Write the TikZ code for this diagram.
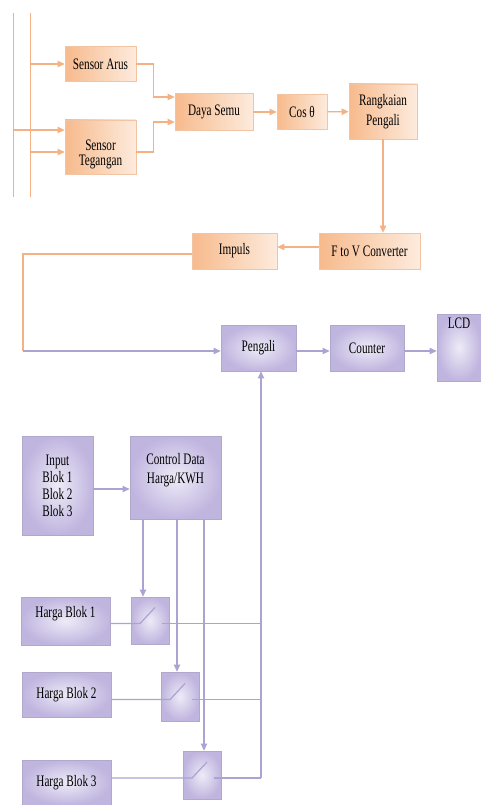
\documentclass[tikz,border=0pt]{standalone}
\usepackage{fontspec}
\setmainfont[FakeStretch=0.7]{Liberation Serif}
\usetikzlibrary{positioning,arrows.meta,calc}

\definecolor{ogaris}{HTML}{F4B183}
\definecolor{otepi}{HTML}{F1C5A3}
\definecolor{oisi}{HTML}{F7BA8C}
\definecolor{oterang}{HTML}{FDEBDD}
\definecolor{pgaris}{HTML}{ABA3D2}
\definecolor{ptepi}{HTML}{B0A9CB}
\definecolor{pisi}{HTML}{C0B5DF}
\definecolor{pterang}{HTML}{EEEBF7}

\begin{document}
\begin{tikzpicture}[x=1pt, y=-1pt,
    oblock/.style={draw=otepi, line width=0.8pt, left color=oisi, right color=oterang, inner sep=0pt, align=center, font=\fontsize{16}{17}\selectfont},
    pblock/.style={draw=ptepi, line width=0.8pt, inner color=pterang, outer color=pisi, inner sep=0pt, align=center, font=\fontsize{16}{17}\selectfont},
    saklar/.style={pblock, minimum width=38pt},
    oline/.style={draw=ogaris, line width=1.2pt},
    pline/.style={draw=pgaris, line width=1.2pt},
    oarrow/.style={oline, -{Triangle[length=7pt,width=6.5pt]}},
    parrow/.style={pline, -{Triangle[length=7pt,width=6.5pt]}}
]
\useasboundingbox (0,0) rectangle (481,805);

% Sensor
\node[oblock, minimum width=71pt, minimum height=35pt] (arus) at (100.5,64) {Sensor Arus};
\node[oblock, minimum width=71pt, text height=46pt, text depth=8pt] (tegangan) at (100.5,147) {Sensor\\[-2pt]Tegangan};

% Daya
\node[oblock, minimum width=78pt, minimum height=37pt] (daya) at (214,112) {Daya Semu};
\node[oblock, minimum width=50pt, minimum height=35pt] (costheta) at (302,112) {Cos θ};
\node[oblock, minimum width=68pt, minimum height=55pt] (rangkaian) at (383,111.5) {Rangkaian\\[3pt]Pengali};
\node[oblock, minimum width=101pt, minimum height=36pt] (ftov) at (369.5,251) {F to V Converter};
\node[oblock, minimum width=85pt, minimum height=36pt] (impuls) at (234.5,251) {Impuls};

% Tampilan
\node[pblock, minimum width=75pt, minimum height=46pt] (pengali) at (258.5,348) {Pengali};
\node[pblock, minimum width=74pt, minimum height=46pt] (counter) at (367,348) {Counter};
\node[pblock, minimum width=44pt, text height=14pt, text depth=53pt] (lcd) at (459,347.5) {LCD};

% Tarif
\node[pblock, minimum width=71pt, minimum height=99pt] (input) at (57.5,485.5) {Input\\Blok 1\\Blok 2\\Blok 3};
\node[pblock, minimum width=91pt, text height=47pt, text depth=36pt] (control) at (175.5,477.5) {Control Data\\[2pt]Harga/KWH};
\node[pblock, minimum width=89pt, text height=20pt, text depth=28pt] (harga1) at (65.5,621) {Harga Blok 1};
\node[pblock, minimum width=89pt, minimum height=45pt] (harga2) at (66.5,694.5) {Harga Blok 2};
\node[pblock, minimum width=89pt, minimum height=45pt] (harga3) at (66.5,782.5) {Harga Blok 3};
\node[saklar, minimum height=47pt] (saklar1) at (150,620.5) {};
\node[saklar, minimum height=49pt] (saklar2) at (180,696.5) {};
\node[saklar, minimum height=48pt] (saklar3) at (202,775) {};

% Jala-jala
\coordinate (busA) at (13,13);
\coordinate (busAend) at (13,197);
\coordinate (busB) at (30,13);
\coordinate (busBend) at (30,197);
\draw[oline, line width=0.9pt] (busA) -- (busAend);
\draw[oline, line width=0.9pt] (busB) -- (busBend);
\coordinate (tgA) at ([yshift=17pt]tegangan.west);
\coordinate (tgB) at ([yshift=-5pt]tegangan.west);
\draw[oarrow] (busB |- arus.west) -- (arus.west);
\draw[oarrow] (busA |- tgA) -- (tgA);
\draw[oarrow] (busB |- tgB) -- (tgB);

% Koneksi atas
\draw[oarrow] (arus.east) -- ++(17,0) |- ([yshift=15pt]daya.west);
\draw[oarrow] ([yshift=-5pt]tegangan.east) -- ++(17,0) |- ([yshift=-10pt]daya.west);
\draw[oarrow] (daya) -- (costheta);
\draw[oarrow] (costheta) -- (rangkaian);
\draw[oarrow] (rangkaian.south) -- (rangkaian.south |- ftov.north);
\draw[oarrow] ([yshift=4pt]ftov.west) -- ([yshift=4pt]impuls.east);
\coordinate (belok) at (23,351);
\draw[oline] ([yshift=-3pt]impuls.west) -| (belok);
\draw[parrow] (belok) -- (belok -| pengali.west);
\draw[parrow] (pengali.east |- belok) -- (counter.west |- belok);
\draw[parrow] (counter.east |- belok) -- (lcd.west |- belok);

% Koneksi tarif
\coordinate (inA) at ([yshift=-3.5pt]input.east);
\draw[parrow] (inA) -- (inA -| control.west);
\coordinate (atur1) at ([xshift=-7pt]saklar1.north);
\coordinate (atur2) at ([xshift=-3pt]saklar2.north);
\coordinate (atur3) at ([xshift=2pt]saklar3.north);
\foreach \i in {1,2,3}
    \draw[parrow] (atur\i |- control.south) -- (atur\i);
\coordinate (pbus) at ([xshift=2.5pt]pengali.south);
\foreach \i in {1,2,3} {
    \coordinate (masuk\i) at ($(saklar\i.center)+(-10,3)$);
    \coordinate (ujung\i) at ($(saklar\i.center)+(5,-13)$);
    \coordinate (keluar\i) at ($(saklar\i.center)+(12,3)$);
    \draw[pline] (harga\i.east |- masuk\i) -- (masuk\i) -- (ujung\i);
    \draw[pline] (keluar\i) -- (keluar\i -| pbus);
}
\draw[parrow] (keluar3 -| pbus) -- (pbus);

\end{tikzpicture}
\end{document}
